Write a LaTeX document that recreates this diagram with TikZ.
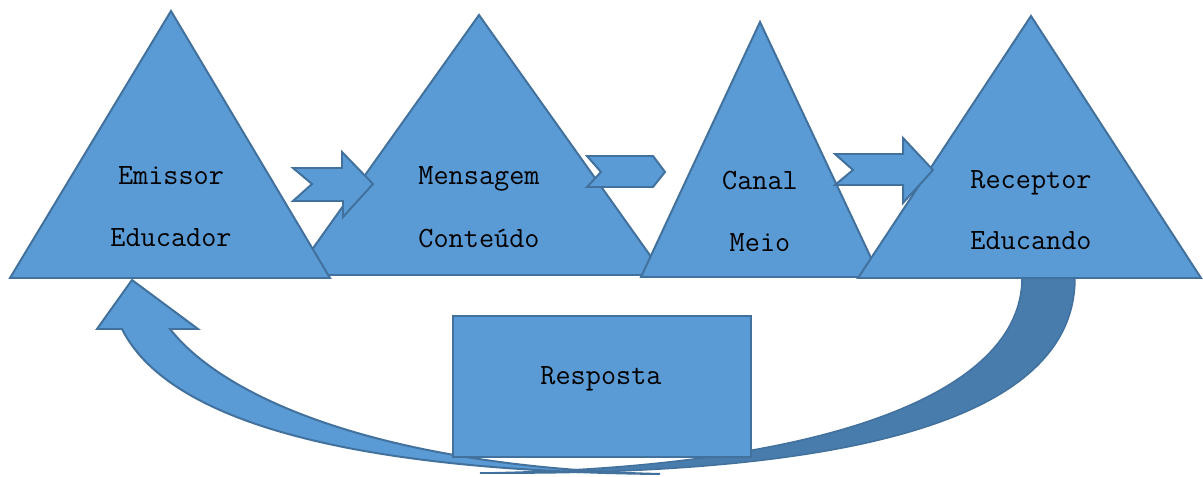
\documentclass[tikz,border=0pt]{standalone}
\usepackage{fontspec}
\usepackage{tikz}
\usetikzlibrary{positioning}
\definecolor{shapefill}{HTML}{5B9BD5}
\definecolor{shapeline}{HTML}{41719C}
\definecolor{backfill}{HTML}{487CAD}
\tikzstyle{tri} = [fill = shapefill, draw = shapeline, line width = 2pt,
  line join = miter]
\tikzstyle{blockarrow} = [fill = shapefill, draw = shapeline, line width = 2pt]
\tikzstyle{backband} = [fill = backfill, draw = shapeline, line width = 1.5pt]
\tikzstyle{box} = [
  rectangle, minimum width = 298bp, minimum height = 141bp,
  fill = shapefill, draw = shapeline, line width = 2pt
]
\tikzstyle{txt} = [anchor = base, inner sep = 0, font = \ttfamily\fontsize{29.5}{33}\selectfont]

\begin{document}
\begin{tikzpicture}[x = 1bp, y = -1bp]
      \useasboundingbox (0, 0) rectangle (1203, 477);
      % feedback arrow, back part
      \draw [backband] (1075, 278) .. controls (1075, 420) and (850, 476) .. (480, 473)
        .. controls (830, 468) and (1022, 392) .. (1022, 278) -- cycle;
      % feedback arrow, front part with head
      \draw [blockarrow] (660, 474) .. controls (330, 471) and (165, 415) .. (122, 329)
        -- (97, 329) -- (132, 280) -- (198, 329) -- (170, 329)
        .. controls (230, 405) and (400, 468) .. (660, 474) -- cycle;
      % triangles
      \draw [tri] (294, 275) -- (479, 15) -- (664, 275) -- cycle;
      \draw [tri] (10, 278) -- (171, 11) -- (330, 278) -- cycle;
      \draw [tri] (641, 277) -- (760, 22) -- (880, 277) -- cycle;
      \draw [tri] (858, 278) -- (1031, 16) -- (1201, 278) -- cycle;
      % arrows between
      \draw [blockarrow] (293, 168) -- (342, 168) -- (342, 152) -- (373, 184)
        -- (343, 217) -- (343, 201) -- (293, 201) -- (312, 184) -- cycle;
      \draw [blockarrow] (587, 156) -- (653, 156) -- (665, 172) -- (653, 187)
        -- (587, 187) -- (601, 172) -- cycle;
      \draw [blockarrow] (835, 154) -- (903, 154) -- (903, 138) -- (933, 170)
        -- (903, 203) -- (903, 185) -- (835, 185) -- (853, 170) -- cycle;
      % response box
      \node [box, anchor = north west] (resposta-box) at (452, 315) {};
      % labels
      \node [txt] (emissor) at (171, 185) {Emissor};
      \node [txt] (educador) at (171, 247) {Educador};
      \node [txt] (mensagem) at (479, 185) {Mensagem};
      \node [txt] (conteudo) at (479, 248) {Conteúdo};
      \node [txt] (canal) at (760, 190) {Canal};
      \node [txt] (meio) at (760, 252) {Meio};
      \node [txt] (receptor) at (1031, 189) {Receptor};
      \node [txt] (educando) at (1031, 250) {Educando};
      \node [txt] (resposta) at (601, 385) {Resposta};
    \end{tikzpicture}
\end{document}
